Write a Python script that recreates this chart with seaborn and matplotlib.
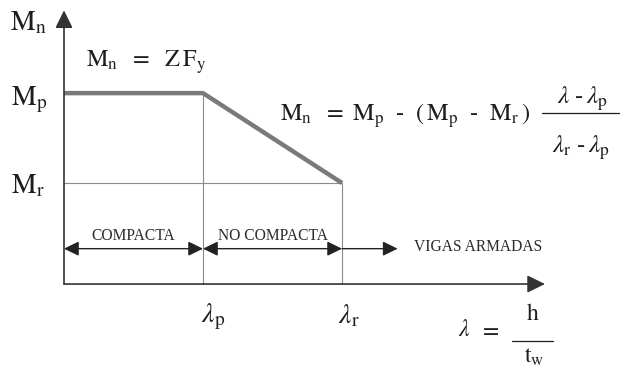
import numpy as np
import pandas as pd
import matplotlib
matplotlib.use("Agg")
import matplotlib.pyplot as plt
import seaborn as sns

# slenderness limits and moment levels (arbitrary units)
lam_p = 1.0
lam_r = 2.0
m_p = 1.89
m_r = 1.0
lam_max = 3.46   # end of the x axis arrow
m_max = 2.71     # end of the y axis arrow

curve_lam = [0.0, lam_p, lam_r]
curve_m = [m_p, m_p, m_r]

zone_names = ["COMPACTA", "NO COMPACTA", "VIGAS ARMADAS"]
zone_starts = [0.0, lam_p, lam_r]
zone_ends = [lam_p, lam_r, 2.4]
zone_y = 0.35

sns.set_theme(style="white")
plt.rcParams["font.family"] = ["Liberation Serif", "DejaVu Serif"]
plt.rcParams["mathtext.fontset"] = "stix"

fig = plt.figure(figsize=(6.22, 3.72), dpi=100)
ax = fig.add_axes([0, 0, 1, 1])
ax.set_xlim(-0.4604, 4.014)
ax.set_ylim(-0.871, 2.812)
ax.axis("off")

# thin guide lines
guide = "#8a8a8a"
ax.plot([lam_p, lam_p], [0, m_p], color=guide, lw=0.8)
ax.plot([lam_r, lam_r], [0, m_r], color=guide, lw=0.8)
ax.plot([0, lam_r], [m_r, m_r], color=guide, lw=0.8)

# Mn curve
df = pd.DataFrame({"lam": curve_lam, "Mn": curve_m})
sns.lineplot(data=df, x="lam", y="Mn", ax=ax, color="#7a7a7a", lw=3.2,
             sort=False, estimator=None, solid_capstyle="butt")

# axes with arrow heads
axis_col = "#333333"
for tip in [(lam_max, 0), (0, m_max)]:
    ax.annotate("", xy=tip, xytext=(0, 0),
                arrowprops=dict(arrowstyle="-|>,head_length=0.45,head_width=0.22",
                                color=axis_col, lw=1.2, mutation_scale=24,
                                shrinkA=0, shrinkB=0))

# zone arrows
for i, (a, b) in enumerate(zip(zone_starts, zone_ends)):
    style = "<|-|>" if i < 2 else "-|>"
    ax.annotate("", xy=(b, zone_y), xytext=(a, zone_y),
                arrowprops=dict(arrowstyle=style + ",head_length=0.45,head_width=0.22",
                                color="#222222", lw=1.0, mutation_scale=20,
                                shrinkA=0, shrinkB=0))

zone_lbl_x = [0.50, 1.50, 2.98]
zone_lbl_y = [0.475, 0.475, 0.37]
for name, x, y in zip(zone_names, zone_lbl_x, zone_lbl_y):
    ax.text(x, y, name, ha="center", va="center", fontsize=11.2, color="#2a2a2a")

txt = "#1e1e1e"
# axis labels
ax.text(-0.26, 2.59, r"$\mathrm{M_n}$", ha="center", va="center", fontsize=20, color=txt)
ax.text(-0.25, 1.83, r"$\mathrm{M_p}$", ha="center", va="center", fontsize=20, color=txt)
ax.text(-0.26, 0.97, r"$\mathrm{M_r}$", ha="center", va="center", fontsize=20, color=txt)
ax.text(lam_p + 0.07, -0.32, r"$\lambda_\mathrm{p}$", ha="center", va="center", fontsize=20, color=txt)
ax.text(lam_r + 0.05, -0.32, r"$\lambda_\mathrm{r}$", ha="center", va="center", fontsize=20, color=txt)

# slenderness definition
ax.text(2.88, -0.465, r"$\lambda$", ha="center", va="center", fontsize=17, color=txt)
ax.text(3.06, -0.465, r"$=$", ha="center", va="center", fontsize=17, color=txt)
ax.text(3.37, -0.30, r"$\mathrm{h}$", ha="center", va="center", fontsize=17, color=txt)
ax.plot([3.22, 3.52], [-0.564, -0.564], color=txt, lw=0.9)
ax.text(3.38, -0.72, r"$\mathrm{t_w}$", ha="center", va="center", fontsize=17, color=txt)

# equations
ax.text(0.59, 2.20, r"$\mathrm{M_n\ \ =\ \ Z\,F_y}$", ha="center", va="center", fontsize=17.5, color=txt)
ax.text(2.45, 1.67, r"$\mathrm{M_n\ \ =\ M_p\ \ \text{-}\ \ (\,M_p\ \ \text{-}\ \ M_r\,)}$",
        ha="center", va="center", fontsize=17.5, color=txt)
ax.text(3.73, 1.83, r"$\lambda\ \text{-}\,\lambda_\mathrm{p}$", ha="center", va="center", fontsize=18, color=txt)
ax.plot([3.44, 3.99], [1.69, 1.69], color=txt, lw=0.9)
ax.text(3.72, 1.35, r"$\lambda_\mathrm{r}\ \text{-}\,\lambda_\mathrm{p}$", ha="center", va="center", fontsize=18, color=txt)

fig.savefig("out.png", dpi=100, facecolor="white")
